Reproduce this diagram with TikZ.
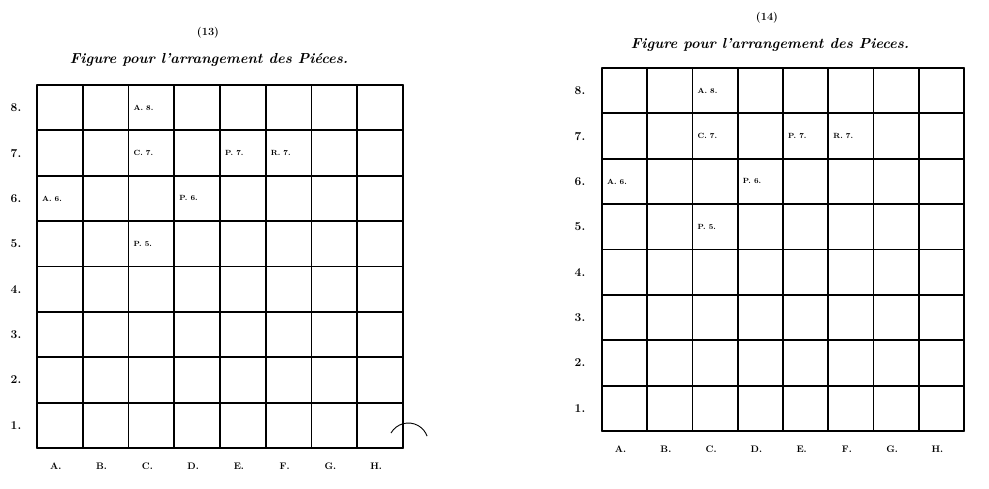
\documentclass[tikz,border=0pt]{standalone}
\begin{document}
\begin{tikzpicture}[x=1pt,y=-1pt,
  gridline/.style={line width=1.9pt,line cap=round},
  rowlab/.style={font=\fontsize{12}{12}\selectfont\bfseries,inner sep=0pt},
  collab/.style={font=\fontsize{9.5}{9.5}\selectfont\bfseries,inner sep=0pt},
  piece/.style={font=\fontsize{7.5}{7.5}\selectfont\bfseries,inner sep=0pt,anchor=west},
  titletext/.style={font=\fontsize{14.5}{14.5}\selectfont\itshape\bfseries,inner sep=0pt},
  pagenum/.style={font=\fontsize{11}{11}\selectfont\bfseries,inner sep=0pt}]
\useasboundingbox (0,0) rectangle (989,488);

% ---------- left page ----------
\node[pagenum] (lpage) at (208,33) {(13)};
\node[titletext] (ltitle) at (209,60) {Figure pour l'arrangement des Piéces.};
\foreach \i in {0,...,8} {
  \draw[gridline] (37+\i*45.75,85) -- (37+\i*45.75,448);
  \draw[gridline] (37,85+\i*45.375) -- (403,85+\i*45.375);
}
\foreach \r in {1,...,8} {
  \node[rowlab] (lrow\r) at (16,{85+(8.5-\r)*45.375}) {\r.};
}
\foreach \c [count=\k from 0] in {A,B,C,D,E,F,G,H} {
  \node[collab] (lcol\c) at ({37+(\k+0.5)*45.75-4},466) {\c.};
}
\foreach \c/\r/\t [count=\n] in {2/8/A. 8., 2/7/C. 7., 4/7/P. 7., 5/7/R. 7., 0/6/A. 6., 3/6/P. 6., 2/5/P. 5.} {
  \node[piece] (lp\n) at ({37+\c*45.75+5},{85+(8.5-\r)*45.375}) {\t};
}
\draw[line width=0.9pt] (391,433) arc[start angle=210,end angle=340,radius=20];

% ---------- right page ----------
\node[pagenum] (rpage) at (767,18) {(14)};
\node[titletext] (rtitle) at (770,45) {Figure pour l'arrangement des Pieces.};
\foreach \i in {0,...,8} {
  \draw[gridline] (602+\i*45.25,68) -- (602+\i*45.25,431);
  \draw[gridline] (602,68+\i*45.375) -- (964,68+\i*45.375);
}
\foreach \r in {1,...,8} {
  \node[rowlab] (rrow\r) at (580,{68+(8.5-\r)*45.375}) {\r.};
}
\foreach \c [count=\k from 0] in {A,B,C,D,E,F,G,H} {
  \node[collab] (rcol\c) at ({602+(\k+0.5)*45.25-4},449) {\c.};
}
\foreach \c/\r/\t [count=\n] in {2/8/A. 8., 2/7/C. 7., 4/7/P. 7., 5/7/R. 7., 0/6/A. 6., 3/6/P. 6., 2/5/P. 5.} {
  \node[piece] (rp\n) at ({602+\c*45.25+5},{68+(8.5-\r)*45.375}) {\t};
}
\end{tikzpicture}
\end{document}
